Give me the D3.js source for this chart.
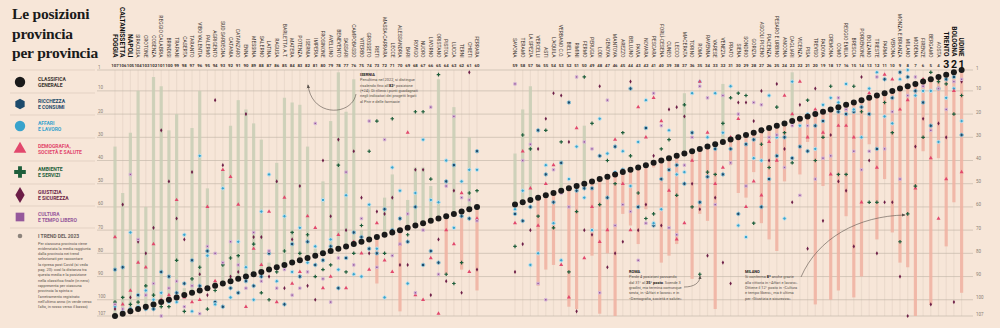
<!DOCTYPE html>
<meta charset="utf-8">
<style>
body { margin: 0; background: #f7e6d8; }
svg { display: block; }
svg text { font-family: Roboto, "Noto Sans", sans-serif; }
.title { font-family: "Liberation Serif", "DejaVu Serif", serif; font-weight: bold; font-size: 15.5px; fill: #1a1a1a; letter-spacing: -0.2px; }
.grid { stroke: #bdb1a5; stroke-width: 0.6; }
.col { stroke: #ecdbcd; stroke-width: 1.2; }
.tick { font-size: 4.5px; fill: #8a7f76; }
.name { font-size: 5px; fill: #3a3430; }
.name.big { font-size: 6.6px; font-weight: bold; fill: #111; }
.num { font-size: 4.3px; font-weight: bold; fill: #3a3430; }
.num.big { font-size: 10.5px; fill: #111; }
.leg { font-size: 5px; font-weight: bold; }
.note { font-size: 3.9px; fill: #5a524c; }
.arrow { fill: none; stroke: #5a524c; stroke-width: 0.6; }
</style>
<svg width="1000" height="328"></svg>
<script src="https://d3js.org/d3.v7.min.js"></script>
<script>

// province in ordine di classifica generale (1 -> 107)
var provinces = ["UDINE","BOLOGNA","TRENTO","AOSTA","BERGAMO","FIRENZE","MODENA","MILANO","MONZA E BRIANZA","VERONA",
  "PARMA","TRIESTE","BOLZANO","PORDENONE","BRESCIA","REGGIO EMILIA","COMO","CREMONA","PADOVA","TREVISO",
  "PISA","VICENZA","CAGLIARI","ANCONA","PESARO E URBINO","PIACENZA","ASCOLI PICENO","GORIZIA","SONDRIO","SIENA",
  "PRATO","VENEZIA","VARESE","RAVENNA","ROMA","TORINO","MACERATA","LECCO","CUNEO","FORLÌ-CESENA",
  "PESCARA","NOVARA","PAVIA","BELLUNO","AREZZO","MANTOVA","GENOVA","LODI","PERUGIA","FERMO",
  "RIMINI","BIELLA","VERBANO C.O.","L'AQUILA","ASTI","VERCELLI","LA SPEZIA","TERAMO","SAVONA","FERRARA",
  "CHIETI","TERNI","LUCCA","PISTOIA","ORISTANO","LIVORNO","NUORO","ROVIGO","BARI","ALESSANDRIA",
  "LECCE","MASSA-CARRARA","RIETI","GROSSETO","VITERBO","CAMPOBASSO","SASSARI","BENEVENTO","AVELLINO","FROSINONE",
  "IMPERIA","ISERNIA","POTENZA","MATERA","BARLETTA A.T.","RAGUSA","LATINA","SALERNO","MESSINA","ENNA",
  "CATANZARO","CATANIA","SUD SARDEGNA","AGRIGENTO","PALERMO","VIBO VALENTIA","TARANTO","CASERTA","TRAPANI","BRINDISI",
  "REGGIO CALABRIA","COSENZA","CROTONE","SIRACUSA","NAPOLI","CALTANISSETTA","FOGGIA"];

// posizioni nelle classifiche di settore (stesso ordine)
var ricchezza = [29,4,5,9,25,15,10,4,2,13, 5,35,20,17,19,20,19,18,23,25, 36,34,39,30,38,48,60,31,33,63,
  35,46,35,47,58,28,50,42,44,48, 68,26,60,9,44,34,56,38,52,52, 53,15,41,58,46,27,60,66,63,36,
  65,64,42,49,84,79,85,60,75,65, 70,61,80,78,73,71,82,95,77,83, 85,75,90,76,102,86,80,90,94,92,
  97,95,103,101,79,94,83,93,97,90, 88,104,104,98,104,86,87];
var affari = [23,9,13,32,10,10,12,1,5,24, 21,2,9,30,18,7,15,13,16,35, 20,25,6,65,30,12,40,39,73,68,
  8,28,11,30,6,11,45,46,27,61, 67,14,32,51,36,45,37,22,70,56, 34,48,83,67,42,80,85,53,61,44,
  44,49,69,40,58,57,31,54,93,53, 43,99,78,59,90,89,55,87,74,57, 77,84,69,88,64,92,46,62,100,86,
  75,99,52,102,81,38,105,72,101,101, 97,100,96,103,71,105,103];
var demografia = [45,10,48,65,39,5,52,14,18,5, 3,43,11,58,30,25,25,46,28,18, 30,6,20,12,40,32,55,49,60,22,
  30,43,50,28,6,40,67,74,53,23, 13,30,17,70,50,31,70,75,60,82, 26,99,85,42,50,68,52,36,67,65,
  88,54,76,70,106,82,100,98,28,76, 88,83,67,87,80,75,95,72,90,95, 69,64,88,93,56,101,62,85,78,103,
  59,47,44,92,60,100,101,99,57,98, 100,76,86,84,96,102,73];
var ambiente = [12,20,7,6,2,30,51,63,75,28, 15,58,58,19,8,46,46,8,30,40, 14,22,41,28,17,43,33,67,12,11,
  13,24,46,45,89,60,16,55,31,35, 63,65,54,38,28,50,40,59,24,4, 62,88,32,69,27,64,35,29,77,53,
  54,84,93,89,3,48,19,19,72,70, 22,80,23,36,68,80,88,42,85,87, 90,72,80,71,79,88,100,97,76,90,
  81,82,85,96,104,86,91,105,83,103, 103,98,94,101,102,99,101];
var giustizia = [6,101,30,24,102,22,34,107,90,58, 58,80,40,4,77,53,49,29,66,9, 78,16,58,35,7,40,10,23,15,15,
  93,84,56,81,61,50,21,17,18,68, 38,59,70,6,75,80,86,8,72,70, 105,32,12,11,22,35,70,76,88,87,
  2,97,53,92,74,98,44,44,85,85, 56,63,62,80,56,36,70,31,64,40, 100,94,51,74,95,49,90,73,73,20,
  88,90,42,14,98,89,45,74,65,49, 27,69,80,75,99,59,104];
var cultura = [5,6,18,9,27,8,4,12,48,19, 35,4,36,44,36,18,13,38,39,48, 25,55,25,43,29,30,16,15,51,20,
  41,12,59,13,8,30,42,72,69,25, 11,67,83,62,59,68,14,97,35,32, 4,60,54,44,100,93,33,40,7,66,
  57,56,21,51,89,17,70,97,63,76, 81,31,86,23,65,85,45,82,101,91, 24,88,95,98,87,95,79,92,71,95,
  85,75,84,80,77,106,94,103,92,95, 107,93,98,74,46,104,102];
// media dei trend 2023
var trend = [97,58,77,39,102,36,107,86,84,71, 48,74,33,90,99,64,96,100,51,102, 32,46,2,49,79,74,67,45,56,54,
  42,7,104,66,63,91,11,76,81,84, 43,61,76,68,63,107,80,106,81,25, 104,103,40,85,87,94,8,18,37,96,
  30,87,17,89,5,51,43,43,57,105, 46,56,93,59,70,5,19,2,23,49, 78,34,16,15,13,41,84,31,24,18,
  14,25,44,92,52,10,26,95,20,27, 8,4,60,10,28,54,34];

var yTicks = [1,10,20,30,40,50,60,70,80,90,100,107];

var legendItems = [
  {lines: ["CLASSIFICA", "GENERALE"], color: "#3a3430"},
  {lines: ["RICCHEZZA", "E CONSUMI"], color: "#1c4a6b"},
  {lines: ["AFFARI", "E LAVORO"], color: "#39a3cc"},
  {lines: ["DEMOGRAFIA,", "SOCIETÀ E SALUTE"], color: "#e2486d"},
  {lines: ["AMBIENTE", "E SERVIZI"], color: "#1e5e3b"},
  {lines: ["GIUSTIZIA", "E SICUREZZA"], color: "#6d1e47"},
  {lines: ["CULTURA", "E TEMPO LIBERO"], color: "#95589b"}
];
var trendText = ["Per ciascuna provincia viene", "evidenziata la media raggiunta", "dalla provincia nei trend",
  "selezionati per raccontare", "la ripresa post Covid (si veda", "pag. 20): così la distanza tra",
  "questa media e la posizione", "nella classifica finale (in nero)", "rappresenta per ciascuna",
  "provincia la spinta o", "l'arretramento registrato", "nell'ultimo anno (in verde verso",
  "l'alto, in rosso verso il basso)"];

var svg = d3.select("svg");

svg.append("rect").attr("width", 1000).attr("height", 328).attr("fill", "#f7e6d8");

var y = d3.scaleLinear().domain([1, 107]).range([70, 316]);
var xLeft = d3.scaleLinear().domain([107, 60]).range([115, 477]);
var xRight = d3.scaleLinear().domain([59, 1]).range([515, 961.6]);
function x(rank) { return rank >= 60 ? xLeft(rank) : xRight(rank); }
var ranks = d3.range(1, 108);

var hexagon = {
  draw: function(ctx, size) {
    var r = Math.sqrt(size / 2.598);
    for (var i = 0; i < 6; i++) {
      var a = Math.PI / 3 * i + Math.PI / 6;
      if (i == 0) ctx.moveTo(r * Math.cos(a), r * Math.sin(a));
      else ctx.lineTo(r * Math.cos(a), r * Math.sin(a));
    }
    ctx.closePath();
  }
};

// title
svg.append("text").attr("class", "title").attr("x", 12)
  .selectAll("tspan").data(["Le posizioni", "provincia", "per provincia"])
  .enter().append("tspan").attr("x", 12).attr("y", function(d, i) { return 19 + i * 19.5; }).text(function(d) { return d; });

// vertical column guides
svg.append("g").selectAll("line").data(ranks).enter().append("line")
  .attr("class", "col")
  .attr("x1", x).attr("x2", x).attr("y1", y(1)).attr("y2", y(107));

// horizontal grid
var grid = svg.append("g");
grid.selectAll("line").data(yTicks).enter().append("line")
  .attr("class", "grid")
  .attr("x1", 97).attr("x2", 973)
  .attr("y1", y).attr("y2", y);
grid.selectAll("text.l").data(yTicks).enter().append("text")
  .attr("class", "tick").attr("x", 98).attr("y", function(d) { return y(d) - 1.5; })
  .text(function(d) { return d; });
grid.selectAll("text.r").data(yTicks).enter().append("text")
  .attr("class", "tick").attr("x", 976).attr("y", function(d) { return y(d) - 0.5; })
  .text(function(d) { return d; });

// legend separators
svg.append("g").selectAll("line").data([70, 93, 115, 138, 161, 184, 206, 228]).enter().append("line")
  .attr("x1", 10).attr("x2", 95).attr("y1", function(d) { return d; }).attr("y2", function(d) { return d; })
  .attr("stroke", "#d9c8b9").attr("stroke-width", 0.6);

// trend bars
svg.append("g").selectAll("line").data(ranks).enter().append("line")
  .attr("x1", x).attr("x2", x)
  .attr("y1", function(r) { return y(r); })
  .attr("y2", function(r) { return y(trend[r - 1]); })
  .attr("stroke", function(r) { return trend[r - 1] < r ? "#c9cfb6" : "#f1b2a2"; })
  .attr("stroke-width", 3.2)
  .attr("opacity", 0.85);

// sector markers
var series = [
  {values: ricchezza, color: "#1c4a6b", type: hexagon, size: 9, halo: "#8fc3d6"},
  {values: affari, color: "#39a3cc", type: d3.symbolCircle, size: 9, halo: "#c0e3ef"},
  {values: demografia, color: "#e2486d", type: d3.symbolTriangle, size: 7},
  {values: ambiente, color: "#1e5e3b", type: d3.symbolCross, size: 7},
  {values: giustizia, color: "#6d1e47", type: d3.symbolDiamond, size: 5},
  {values: cultura, color: "#95589b", type: d3.symbolSquare, size: 6, halo: "#d8b9d6"}
];
series.forEach(function(s) {
  svg.append("g").selectAll("path").data(ranks).enter().append("path")
    .attr("d", d3.symbol().type(s.type).size(s.size))
    .attr("transform", function(r) { return "translate(" + x(r) + "," + y(s.values[r - 1]) + ")"; })
    .attr("fill", s.color)
    .attr("stroke", s.halo || "none")
    .attr("stroke-width", s.halo ? 1 : 0);
});

// classifica generale
svg.append("g").selectAll("circle").data(ranks).enter().append("circle")
  .attr("cx", x).attr("cy", y).attr("r", 3)
  .attr("fill", "#1a1a1a");

// province names
var extremes = [1, 2, 3, 105, 106, 107];
svg.append("g").selectAll("text").data(ranks).enter().append("text")
  .attr("class", function(r) { return extremes.indexOf(r) >= 0 ? "name big" : "name"; })
  .attr("transform", function(r) { return "translate(" + x(r) + "," + (r <= 3 ? 56.5 : 57.5) + ") rotate(90)"; })
  .attr("text-anchor", "end")
  .attr("dy", "0.35em")
  .text(function(r) { return provinces[r - 1]; });

// rank numbers
svg.append("g").selectAll("text").data(ranks).enter().append("text")
  .attr("class", function(r) { return r <= 3 ? "num big" : "num"; })
  .attr("x", x).attr("y", function(r) { return r <= 3 ? 68 : 66.5; })
  .attr("text-anchor", "middle")
  .text(function(r) { return r; });

// legend
var legY = [82, 104, 126, 149, 172, 195, 217];
var legShapes = [d3.symbolCircle, hexagon, d3.symbolCircle, d3.symbolTriangle, d3.symbolCross, d3.symbolDiamond, d3.symbolSquare];
var leg = svg.append("g");
legendItems.forEach(function(it, i) {
  leg.append("path")
    .attr("d", d3.symbol().type(legShapes[i]).size(i == 0 || i == 2 ? 85 : (i == 3 ? 70 : 75)))
    .attr("transform", "translate(20," + legY[i] + ")")
    .attr("fill", i == 0 ? "#1a1a1a" : it.color);
  leg.append("text").attr("class", "leg").attr("fill", it.color)
    .selectAll("tspan").data(it.lines).enter().append("tspan")
    .attr("x", 38).attr("y", function(d, j) { return legY[i] - 1 + j * 5.8; })
    .text(function(d) { return d; });
});
leg.append("circle").attr("cx", 20).attr("cy", 236).attr("r", 2.3).attr("fill", "#8d847c");
leg.append("text").attr("class", "leg").attr("fill", "#6a625c").attr("x", 38).attr("y", 238).text("I TREND DEL 2023");
leg.append("text").attr("class", "note")
  .selectAll("tspan").data(trendText).enter().append("tspan")
  .attr("x", 38).attr("y", function(d, i) { return 244.5 + i * 5.3; })
  .text(function(d) { return d; });

// annotations
svg.append("defs").append("marker")
  .attr("id", "head").attr("viewBox", "0 -3 6 6").attr("refX", 5).attr("refY", 0)
  .attr("markerWidth", 4).attr("markerHeight", 4).attr("markerUnits", "userSpaceOnUse")
  .attr("orient", "auto")
  .append("path").attr("d", "M0,-2.5L6,0L0,2.5Z").attr("fill", "#5a524c");

function note(x0, y0, title, lines) {
  var t = svg.append("text").attr("class", "note");
  t.append("tspan").attr("x", x0).attr("y", y0).attr("font-weight", "bold").attr("fill", "#1a1a1a").text(title);
  lines.forEach(function(parts, i) {
    var row = t.append("tspan").attr("x", x0).attr("y", y0 + (i + 1) * 5.3);
    parts.forEach(function(p) {
      if (typeof p == "string") row.append("tspan").text(p);
      else row.append("tspan").attr("font-weight", "bold").attr("fill", "#1a1a1a").text(p.b);
    });
  });
}
note(360, 76, "ISERNIA", [
  ["Penultima nel 2022, si distingue"],
  ["risalendo fino all'", {b: "82°"}, " posizione"],
  ["(+24). Di rilievo i punti guadagnati"],
  ["negli indicatori dei progetti legati"],
  ["al Pnrr e delle farmacie"]
]);
note(629, 273, "ROMA", [
  ["Perde 4 posizioni passando"],
  ["dal 31° al ", {b: "35° posto"}, ". Scende 3"],
  ["gradini, ma termina comunque"],
  ["sesta, in «Affari e lavoro» e in"],
  ["«Demografia, società e salute»"]
]);
note(745, 273, "MILANO", [
  ["Si conferma ", {b: "8ª"}, " anche grazie"],
  ["alla vittoria in «Affari e lavoro»."],
  ["Ottiene il 12° posto in «Cultura"],
  ["e tempo libero», ma è ultima"],
  ["per «Giustizia e sicurezza»"]
]);

svg.append("path").attr("class", "arrow").attr("marker-end", "url(#head)")
  .attr("d", "M356,94 C352,116 312,118 308,85");
svg.append("path").attr("class", "arrow").attr("marker-end", "url(#head)")
  .attr("d", "M684,287 C694,287 700,283 700,276");
svg.append("path").attr("class", "arrow").attr("marker-end", "url(#head)")
  .attr("d", "M801,277 C818,238 858,216 905,215");

</script>
